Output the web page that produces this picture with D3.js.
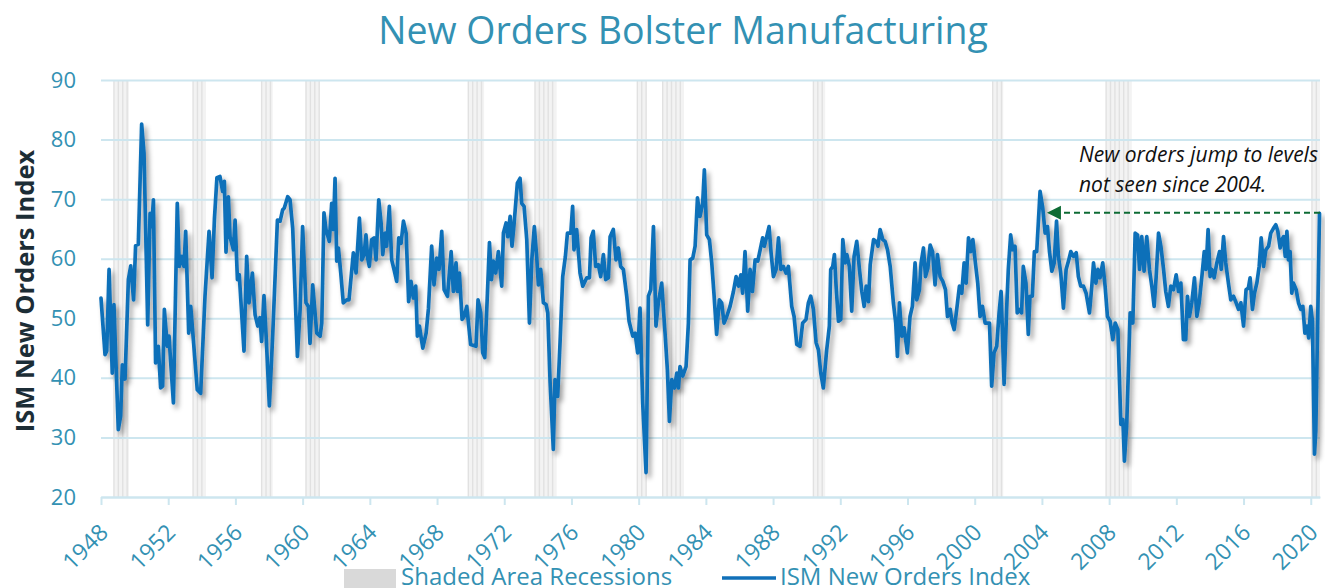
<!DOCTYPE html>
<html><head><meta charset="utf-8">
<script src="https://cdn.jsdelivr.net/npm/d3@7"></script>
<style>body{margin:0;background:#fff} svg{display:block;font-family:"Open Sans",sans-serif}</style>
</head><body><svg id="c" width="1325" height="588"></svg>
<script>
const chartTitle = "New Orders Bolster Manufacturing";
const yAxisTitle = "ISM New Orders Index";
const yTicks = [20, 30, 40, 50, 60, 70, 80, 90];
const xTicks = [1948,1952,1956,1960,1964,1968,1972,1976,1980,1984,1988,1992,1996,2000,2004,2008,2012,2016,2020];
const recessionStart = [1948.77,1953.48,1957.56,1960.20,1969.86,1973.83,1979.92,1981.43,1990.40,2001.07,2007.82,2020.07];
const recessionEnd   = [1949.67,1954.25,1958.22,1960.98,1970.80,1975.12,1980.44,1982.70,1991.10,2001.70,2009.35,2020.55];
const annotationLines = ["New orders jump to levels", "not seen since 2004."];
const annotationLevel = 67.7;
const annotationFrom = 2020.55, annotationTo = 2004.30;
const legendLabels = ["Shaded Area Recessions", "ISM New Orders Index"];

const obsYear = [
1948.00,1948.24,1948.34,1948.48,1948.67,1948.77,1949.03,1949.17,1949.27,1949.43,1949.63,1949.77,1949.94,1950.06,1950.22,1950.42,1950.56,1950.78,1950.92,1951.02,1951.12,1951.25,1951.41,1951.55,1951.67,1951.77,1951.95,1952.05,1952.15,1952.31,1952.54,1952.66,1952.80,1952.94,1953.04,1953.22,1953.34,1953.48,1953.73,1953.93,1954.19,1954.43,1954.61,1954.75,1954.90,1955.08,1955.24,1955.34,1955.44,1955.58,1955.68,1955.88,1955.98,1956.12,1956.23,1956.51,1956.67,1956.81,1957.01,1957.17,1957.33,1957.46,1957.56,1957.70,1957.84,1958.02,1958.22,1958.50,1958.66,1958.81,1958.91,1959.11,1959.25,1959.41,1959.69,1959.85,1960.00,1960.20,1960.34,1960.44,1960.60,1960.84,1961.04,
1961.14,1961.27,1961.39,1961.59,1961.73,1961.83,1961.93,1962.03,1962.13,1962.27,1962.42,1962.62,1962.76,1963.02,1963.18,1963.38,1963.52,1963.66,1963.77,1963.87,1963.97,1964.11,1964.25,1964.37,1964.53,1964.67,1964.77,1964.91,1965.00,1965.16,1965.30,1965.44,1965.60,1965.72,1965.86,1966.00,1966.16,1966.31,1966.45,1966.59,1966.73,1966.83,1966.95,1967.15,1967.35,1967.49,1967.68,1967.82,1967.98,1968.12,1968.28,1968.42,1968.62,1968.84,1968.97,1969.13,1969.21,1969.33,1969.49,1969.61,1969.77,1970.00,1970.32,1970.44,1970.60,1970.72,1970.84,1970.96,1971.12,1971.24,1971.35,1971.49,1971.65,1971.85,1971.95,1972.11,1972.21,1972.35,1972.46,1972.58,1972.78,1972.94,1973.04,1973.18,1973.34,1973.50,1973.64,1973.79,1973.93,1974.03,1974.17,1974.33,1974.49,1974.59,1974.73,1974.92,1975.02,1975.18,1975.32,1975.48,1975.64,1975.76,
1975.96,1976.07,1976.15,1976.31,1976.51,1976.67,1976.91,1977.07,1977.17,1977.30,1977.44,1977.60,1977.74,1977.90,1978.04,1978.20,1978.30,1978.49,1978.65,1978.79,1978.93,1979.09,1979.29,1979.43,1979.55,1979.65,1979.79,1979.94,1980.08,1980.24,1980.44,1980.58,1980.72,1980.88,1981.03,1981.17,1981.37,1981.57,1981.71,1981.83,1981.97,1982.13,1982.27,1982.37,1982.46,1982.62,1982.82,1982.96,1983.06,1983.22,1983.36,1983.50,1983.65,1983.81,1983.91,1984.05,1984.21,1984.35,1984.48,1984.64,1984.80,1984.94,1985.08,1985.24,1985.44,1985.64,1985.80,1985.94,1986.08,1986.19,1986.33,1986.49,1986.63,1986.77,1986.93,1987.09,1987.23,1987.38,1987.48,1987.62,1987.76,1987.88,1988.02,1988.18,1988.32,1988.46,1988.61,1988.77,1988.91,1989.11,1989.25,1989.41,1989.60,1989.76,1989.96,
1990.10,1990.24,1990.40,1990.56,1990.70,1990.84,1990.99,1991.19,1991.35,1991.43,1991.55,1991.65,1991.75,1991.89,1992.03,1992.15,1992.29,1992.39,1992.54,1992.68,1992.82,1992.98,1993.14,1993.28,1993.42,1993.54,1993.68,1993.78,1993.98,1994.14,1994.24,1994.37,1994.53,1994.67,1994.81,1994.97,1995.16,1995.30,1995.40,1995.52,1995.66,1995.80,1995.99,1996.15,1996.29,1996.45,1996.55,1996.71,1996.81,1996.95,1997.07,1997.21,1997.35,1997.49,1997.64,1997.78,1997.94,1998.10,1998.26,1998.38,1998.54,1998.66,1998.78,1998.93,1999.09,1999.23,1999.37,1999.49,1999.63,1999.77,1999.89,2000.04,2000.18,2000.32,2000.46,2000.62,2000.76,2000.88,2001.01,2001.15,2001.31,2001.45,2001.57,2001.75,2001.90,2002.00,2002.14,2002.26,2002.40,2002.53,2002.69,2002.79,2002.89,2003.05,2003.19,2003.29,2003.43,2003.55,2003.69,2003.89,2004.05,2004.19,2004.33,2004.45,2004.59,2004.73,2004.87,
2004.98,2005.12,2005.28,2005.44,2005.58,2005.72,2005.88,2006.04,2006.17,2006.31,2006.47,2006.63,2006.83,2006.97,2007.07,2007.21,2007.33,2007.46,2007.62,2007.76,2007.90,2008.06,2008.22,2008.36,2008.52,2008.70,2008.82,2008.91,2009.05,2009.25,2009.41,2009.55,2009.69,2009.81,2009.94,2010.08,2010.24,2010.40,2010.54,2010.68,2010.80,2010.94,2011.08,2011.24,2011.37,2011.53,2011.67,2011.83,2011.99,2012.13,2012.27,2012.42,2012.56,2012.66,2012.78,2012.92,2013.08,2013.22,2013.36,2013.52,2013.66,2013.77,2013.89,2014.01,2014.11,2014.25,2014.41,2014.57,2014.67,2014.81,2014.94,2015.10,2015.24,2015.40,2015.56,2015.70,2015.84,2016.00,2016.15,2016.29,2016.39,2016.53,2016.65,2016.79,2016.93,2017.05,2017.19,2017.33,2017.49,2017.62,2017.78,2017.92,2018.04,2018.18,2018.28,2018.38,2018.48,2018.58,2018.67,2018.77,2018.87,2018.97,2019.13,2019.27,2019.41,2019.53,2019.65,2019.77,2019.88,2020.00,2020.10,2020.22,2020.30,2020.52
];
const obsValue = [
53.4,43.9,44.5,58.2,40.8,52.3,31.3,33.6,42.2,39.8,56.5,58.8,53.1,62.2,62.4,82.6,77.7,48.9,67.6,65.4,69.9,42.5,45.3,38.3,38.6,51.5,45.3,47.0,42.5,35.8,69.3,58.7,60.4,58.7,64.6,47.5,52.0,47.0,38.0,37.4,53.7,64.6,56.8,66.6,73.6,73.8,71.3,73.0,61.1,70.4,63.7,61.5,66.5,56.5,57.3,44.5,60.4,52.6,57.6,50.6,48.7,50.1,46.1,53.8,46.4,35.3,47.2,66.5,66.3,68.2,68.5,70.4,69.9,65.1,43.6,51.5,65.4,52.6,52.0,45.8,55.6,47.5,47.0,
49.2,67.7,64.9,62.9,69.3,64.9,73.5,59.6,61.8,57.6,52.6,53.1,53.1,61.0,57.6,66.8,59.8,60.7,64.0,60.1,58.7,63.2,63.5,59.8,69.9,66.0,60.7,64.3,62.1,68.8,59.8,58.2,56.2,63.5,62.6,66.3,64.3,52.8,56.2,53.4,55.4,47.0,48.7,45.0,47.5,51.7,62.1,55.6,60.1,58.2,64.6,54.8,53.7,61.2,54.5,59.3,54.5,57.6,49.8,50.3,52.0,45.6,45.3,53.1,50.9,44.2,43.4,51.5,62.7,56.5,59.6,57.6,61.2,55.4,64.3,66.0,63.7,67.1,62.1,65.7,72.7,73.5,69.3,68.8,63.2,49.2,59.8,65.4,60.4,55.6,58.2,52.6,52.3,50.9,39.2,28.0,39.7,36.9,45.9,57.0,60.4,64.3,
64.3,68.8,61.5,64.9,57.6,55.4,56.8,56.8,63.5,64.6,58.7,59.0,57.0,60.7,56.5,56.8,63.7,64.9,59.8,61.8,58.7,58.2,53.7,49.5,48.1,47.0,47.5,44.2,51.7,35.8,24.1,53.7,54.8,65.4,48.7,52.6,55.9,47.5,41.3,32.7,39.7,38.3,40.8,38.3,41.9,40.3,41.9,49.2,59.8,60.1,62.1,70.2,67.1,69.3,74.9,64.0,63.2,59.3,54.2,47.3,53.1,52.6,49.2,50.3,52.0,54.5,57.0,55.4,57.3,54.2,61.2,51.2,58.2,54.5,59.8,59.6,61.5,63.5,62.1,63.7,65.4,61.0,57.0,58.2,63.5,58.2,58.7,57.6,58.7,52.0,50.3,45.6,45.3,49.2,49.8,
52.6,53.7,51.5,45.9,44.7,40.8,38.3,44.7,48.7,58.2,58.7,60.7,55.4,49.5,49.8,63.2,59.3,60.7,58.7,51.2,60.4,62.9,58.2,54.5,52.0,55.4,52.8,59.0,63.2,62.9,62.1,64.9,63.2,62.9,61.5,58.7,52.6,49.2,43.6,52.6,47.0,48.4,44.2,50.3,52.0,59.3,53.1,54.8,59.3,61.8,57.0,58.4,62.3,61.2,55.6,60.7,57.0,56.2,54.8,50.3,51.5,49.2,48.1,51.5,55.4,54.2,59.3,55.9,63.5,61.2,63.2,59.3,55.9,50.3,52.0,49.2,49.2,49.2,38.6,44.2,45.3,50.9,54.5,38.9,51.5,58.2,64.0,61.5,62.1,50.9,51.5,50.9,58.7,55.9,47.3,53.7,53.7,61.2,61.2,71.3,68.5,64.3,65.4,61.2,57.9,59.3,66.3,
60.4,57.6,51.7,58.2,59.6,61.2,60.4,61.0,57.0,55.4,55.4,54.2,50.9,55.4,59.3,55.9,58.2,56.8,59.3,55.4,50.3,49.5,46.4,49.2,48.1,32.2,33.0,26.0,32.5,50.9,49.2,64.3,64.0,58.2,63.7,57.9,63.7,58.2,55.4,52.0,57.0,64.3,62.1,58.2,54.5,52.0,55.4,54.8,57.3,54.5,55.9,46.4,46.4,53.7,50.3,52.6,56.8,50.3,52.6,57.0,61.2,58.2,64.9,57.0,58.2,56.8,59.3,61.2,58.2,63.7,59.3,55.9,53.1,53.7,52.6,51.5,52.6,48.7,54.8,55.1,56.8,51.5,54.2,55.9,58.7,63.5,58.7,61.5,62.1,64.3,65.1,65.7,64.6,61.8,63.2,63.7,60.4,64.6,59.8,61.2,54.2,55.9,54.8,52.6,51.5,52.0,47.5,48.7,46.7,52.0,49.5,27.2,31.0,67.6
];

const teal = "#3391b3";
const svg = d3.select("#c");
const x = d3.scaleLinear().domain([1948, 2020.55]).range([101, 1320]);
const y = d3.scaleLinear().domain([20, 90]).range([497, 80]);

const defs = svg.append("defs");
const f = defs.append("filter").attr("id","sh").attr("x","-5%").attr("y","-5%").attr("width","110%").attr("height","115%");
f.append("feDropShadow").attr("dx",3).attr("dy",4).attr("stdDeviation",2.8).attr("flood-color","#000").attr("flood-opacity",0.38);

// title
svg.append("text").attr("x", 683).attr("y", 44).attr("text-anchor","middle")
  .attr("fill", teal).style("font-size","37.5px").text(chartTitle);

// recessions
const rg = svg.append("g");
recessionStart.forEach((s,i) => {
  const x0 = x(s), x1 = x(recessionEnd[i]);
  rg.append("rect").attr("x", x0).attr("y", y(90)).attr("width", x1-x0).attr("height", y(20)-y(90)).attr("fill","#f3f3f3");
  d3.range(x0, x1+0.1, 4.4).forEach(px => {
    rg.append("line").attr("x1",px).attr("x2",px).attr("y1",y(90)).attr("y2",y(20)).attr("stroke","#e1e1e1").attr("stroke-width",1.4);
  });
});

// grid + y axis
const ya = svg.append("g").attr("transform","translate(101,0)")
  .call(d3.axisLeft(y).tickValues(yTicks).tickSize(-(1320-101)).tickPadding(25));
ya.select(".domain").remove();
ya.selectAll(".tick line").attr("stroke","#cde6ef").attr("stroke-width",2);
ya.selectAll(".tick text").attr("fill",teal).style("font-size","22px").style("font-family","'Open Sans',sans-serif");

// x axis
const xa = svg.append("g").attr("transform","translate(0,497)")
  .call(d3.axisBottom(x).tickValues(xTicks).tickSize(8).tickSizeOuter(0).tickFormat(d3.format("d")));
xa.select(".domain").attr("stroke","#cde6ef").attr("stroke-width",2);
xa.selectAll(".tick line").attr("stroke","#cde6ef").attr("stroke-width",2);
xa.selectAll(".tick text").attr("fill",teal).style("font-size","23px").style("font-family","'Open Sans',sans-serif")
  .attr("text-anchor","end").attr("dy",null).attr("y",null)
  .attr("transform","translate(8,37) rotate(-45)");

// y title
svg.append("text").attr("transform","translate(34,291) rotate(-90)").attr("text-anchor","middle")
  .attr("fill","#1c2d36").style("font-size","25.5px").style("font-weight","bold").text(yAxisTitle);

// line
const pts = obsYear.map((d,i)=>[d, obsValue[i]]);
svg.append("path").datum(pts).attr("fill","none").attr("stroke","#1170b9").attr("stroke-width",3.7)
  .attr("stroke-linejoin","round").attr("stroke-linecap","round").attr("filter","url(#sh)")
  .attr("d", d3.line().x(d=>x(d[0])).y(d=>y(d[1])));

// annotation
const green = "#0d6b34";
svg.append("line").attr("x1", x(annotationFrom)).attr("x2", x(annotationTo)+10)
  .attr("y1", y(annotationLevel)).attr("y2", y(annotationLevel))
  .attr("stroke",green).attr("stroke-width",2).attr("stroke-dasharray","6,4");
const ax = x(annotationTo), ay = y(annotationLevel);
svg.append("path").attr("d",`M${ax},${ay} L${ax+14},${ay-7} L${ax+14},${ay+7} Z`).attr("fill",green);
annotationLines.forEach((t,i)=>{
  svg.append("text").attr("x",1079).attr("y",162+i*30).attr("fill","#111").style("font-style","italic")
    .style("font-size","21px").text(t);
});

// legend
svg.append("rect").attr("x",344).attr("y",569).attr("width",52).attr("height",20).attr("fill","#d9d9d9");
svg.append("text").attr("x",401).attr("y",585).attr("fill",teal).style("font-size","24px").text(legendLabels[0]);
svg.append("line").attr("x1",722).attr("x2",776).attr("y1",578).attr("y2",578).attr("stroke","#1170b9").attr("stroke-width",3.5);
svg.append("text").attr("x",780).attr("y",585).attr("fill",teal).style("font-size","24px").text(legendLabels[1]);
</script></body></html>
